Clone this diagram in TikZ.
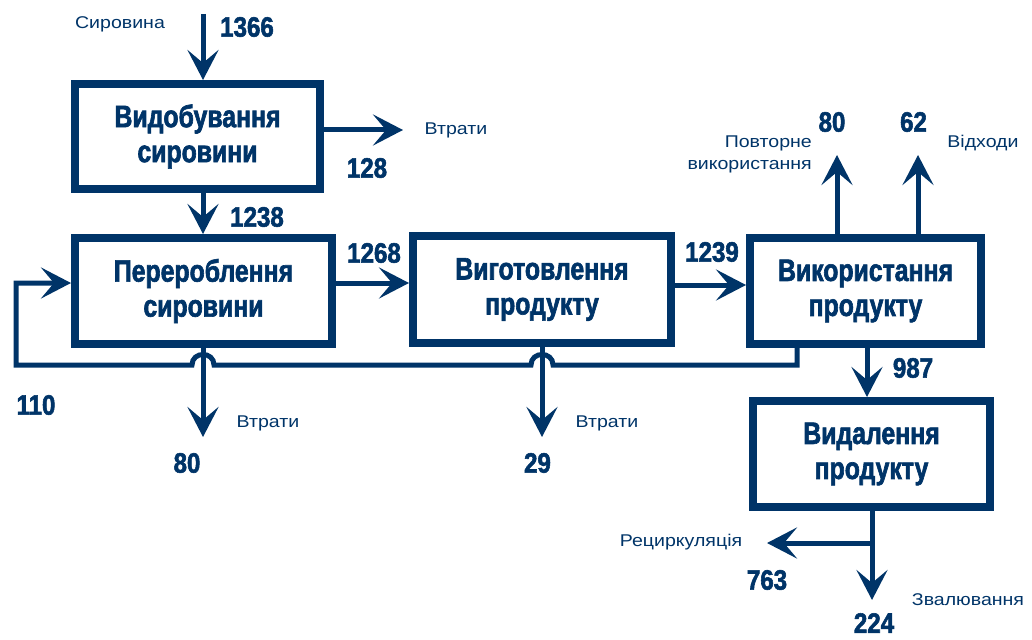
\documentclass[tikz,border=0pt]{standalone}
\usepackage{fontspec}
\setmainfont{Liberation Sans}
\newfontfamily\heavyfont[FakeStretch=0.8,BoldFeatures={FakeBold=2}]{Liberation Sans}
\newfontfamily\numfont[FakeStretch=0.86,BoldFeatures={FakeBold=2}]{Liberation Sans}
\newfontfamily\labfont[FakeStretch=1.15]{Liberation Sans}
\usetikzlibrary{arrows.meta}
\definecolor{navy}{RGB}{0,52,104}
\tikzset{
  proc/.style={draw=navy, line width=8pt, inner sep=0pt, text=navy, align=center,
    font=\heavyfont\bfseries\fontsize{31}{35}\selectfont},
  flow/.style={draw=navy, line width=5pt,
    -{Stealth[length=30pt,width=31pt,inset=13pt]}},
  num/.style={text=navy, inner sep=0pt, font=\numfont\bfseries\fontsize{28}{30}\selectfont},
  lab/.style={text=navy, inner sep=0pt, font=\labfont\fontsize{17}{22}\selectfont},
}
\begin{document}
\begin{tikzpicture}[x=1pt,y=-1pt]
\useasboundingbox (0,0) rectangle (1032,639);

% process boxes
\node[proc, minimum width=245pt, minimum height=105pt] (b1) at (197.5,136.5) {Видобування\\сировини};
\node[proc, minimum width=257pt, minimum height=106pt] (b2) at (203.5,291) {Перероблення\\сировини};
\node[proc, minimum width=258pt, minimum height=107pt] (b3) at (542,289.5) {Виготовлення\\продукту};
\node[proc, minimum width=231pt, minimum height=106pt] (b4) at (865.5,291) {Використання\\продукту};
\node[proc, minimum width=237pt, minimum height=106pt] (b5) at (871.5,454) {Видалення\\продукту};

% helper coordinates for flow lines
\coordinate (src) at (203,14);
\coordinate (loss1) at (403,130);
\coordinate (m1) at (0,283);
\coordinate (m2) at (0,285);
\coordinate (reuse) at (837,155);
\coordinate (waste) at (918,155);
\coordinate (d45) at (867,0);
\coordinate (dump) at (872,600);
\coordinate (recy) at (767,543);
\coordinate (loss2) at (203,437);
\coordinate (loss3) at (542,437);
\coordinate (fb) at (797,365);
\coordinate (fbl) at (16,365);

% main flows
\draw[flow] (src) -- (src |- b1.north);
\draw[flow] (b1.east |- loss1) -- (loss1);
\draw[flow] (src |- b1.south) -- (src |- b2.north);
\draw[flow] (b2.east |- m1) -- (b3.west |- m1);
\draw[flow] (b3.east |- m2) -- (b4.west |- m2);
\draw[flow] (reuse |- b4.north) -- (reuse);
\draw[flow] (waste |- b4.north) -- (waste);
\draw[flow] (d45 |- b4.south) -- (d45 |- b5.north);
\draw[flow] (dump |- b5.south) -- (dump);
\draw[flow] (dump |- recy) -- (recy);
\draw[flow] (loss2 |- b2.south) -- (loss2);
\draw[flow] (loss3 |- b3.south) -- (loss3);

% return loop with hops over the loss lines
\draw[flow] (fb |- b4.south) -- (fb) -- (553,365)
  .. controls (553,351) and (531,351) .. (531,365) -- (214,365)
  .. controls (214,351) and (192,351) .. (192,365) -- (fbl)
  -- (fbl |- m1) -- (b2.west |- m1);

% numbers
\node[num] (n1366) at (247,27) {1366};
\node[num] (n128) at (367,168) {128};
\node[num] (n1238) at (257,217) {1238};
\node[num] (n1268) at (374,253) {1268};
\node[num] (n1239) at (712,252) {1239};
\node[num] (n80a) at (832,122) {80};
\node[num] (n62) at (913.5,122) {62};
\node[num] (n987) at (913,368) {987};
\node[num] (n80b) at (187,463) {80};
\node[num] (n110) at (36,405) {110};
\node[num] (n29) at (537.5,463) {29};
\node[num] (n763) at (767,580) {763};
\node[num] (n224) at (874,623) {224};

% labels
\node[lab] (lraw) at (120,24) {Сировина};
\node[lab] (lloss1) at (456,130) {Втрати};
\node[lab, align=right, anchor=east] (lreuse) at (812,154) {Повторне\\використання};
\node[lab] (lwaste) at (983,143) {Відходи};
\node[lab] (lloss2) at (268,423) {Втрати};
\node[lab] (lloss3) at (607,423) {Втрати};
\node[lab] (lrecy) at (681,542) {Рециркуляція};
\node[lab] (ldump) at (968,600) {Звалювання};
\end{tikzpicture}
\end{document}
